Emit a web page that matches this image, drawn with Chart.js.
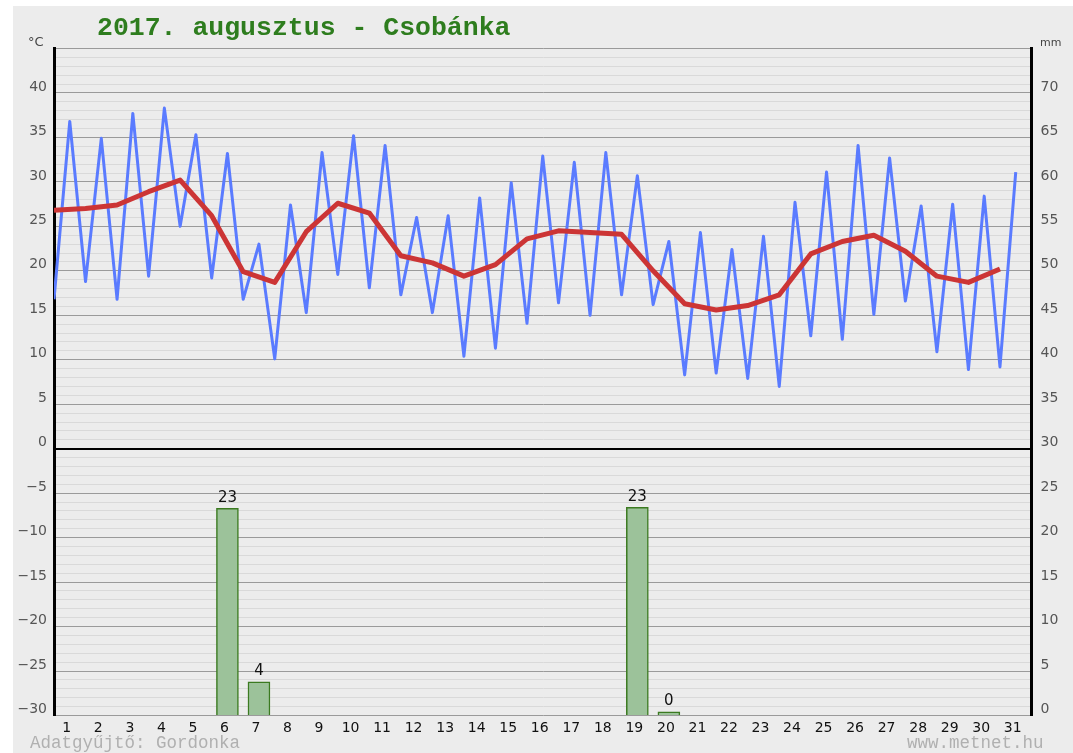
<!DOCTYPE html>
<html>
<head>
<meta charset="utf-8">
<script src="https://cdn.jsdelivr.net/npm/chart.js@4.4.1/dist/chart.umd.min.js"></script>
<style>
  body { margin: 0; background: #fff; width: 1073px; height: 753px; overflow: hidden; }
  #panel { position: absolute; left: 13px; top: 6px; right: 0; bottom: 0; background: #ececec; }
  #c { position: absolute; left: 0; top: 0; }
  .txt { position: absolute; white-space: pre; }
  #title { left: 97px; top: 13px; font: bold 26.5px "Liberation Mono", monospace; color: #2e7d1e; line-height: 30px; }
  #unitC { left: 28px; top: 34px; font: 13px "DejaVu Sans", sans-serif; color: #444; line-height: 16px; }
  #unitMm { left: 1040px; top: 36px; font: 11px "DejaVu Sans", sans-serif; color: #444; line-height: 14px; }
  .foot { top: 733px; font: 17.5px "Liberation Mono", monospace; color: #b0b0b0; line-height: 20px; }
  #src { left: 30px; }
  #site { left: 907px; }
</style>
</head>
<body>
<div id="panel"></div>
<canvas id="c" width="1073" height="753"></canvas>
<div class="txt" id="title">2017. augusztus - Csobánka</div>
<div class="txt" id="unitC">°C</div>
<div class="txt" id="unitMm">mm</div>
<div class="txt foot" id="src">Adatgyűjtő: Gordonka</div>
<div class="txt foot" id="site">www.metnet.hu</div>
<script>
// days of the month
const dayLabels = ["1", "2", "3", "4", "5", "6", "7", "8", "9", "10", "11", "12", "13", "14", "15", "16",
  "17", "18", "19", "20", "21", "22", "23", "24", "25", "26", "27", "28", "29", "30", "31"];

// minimum temperatures, drawn on the day boundaries (0..30)
const tMin = [16.8, 18.8, 16.8, 19.4, 25.0, 19.2, 16.8, 10.1, 15.3, 19.6, 18.1, 17.3, 15.3, 10.4, 11.3, 14.1,
  16.4, 15.0, 17.3, 16.2, 8.3, 8.5, 7.9, 7.0, 12.7, 12.3, 15.1, 16.6, 10.9, 8.9, 9.2];

// maximum temperatures, drawn in the middle of each day
const tMax = [36.8, 34.9, 37.7, 38.3, 35.3, 33.2, 23.0, 27.4, 33.3, 35.2, 34.1, 26.0, 26.2, 28.2, 29.9, 32.9,
  32.2, 33.3, 30.7, 23.3, 24.3, 22.4, 23.9, 27.7, 31.1, 34.1, 32.7, 27.3, 27.5, 28.4, 31.1];

// daily mean temperature
const tMean = [26.8, 27.0, 27.4, 28.9, 30.2, 26.2, 19.9, 18.7, 24.4, 27.6, 26.5, 21.7, 20.9, 19.4, 20.7, 23.6,
  24.5, 24.3, 24.1, 20.0, 16.3, 15.6, 16.1, 17.3, 21.9, 23.3, 24.0, 22.2, 19.4, 18.7, 20.2];

// precipitation (mm), null = no rain
const precip = [null, null, null, null, null, 23.3, 3.8, null, null, null, null, null, null, null, null, null,
  null, null, 23.4, 0.4, null, null, null, null, null, null, null, null, null, null, null];

const tempTicks = [-30, -25, -20, -15, -10, -5, 0, 5, 10, 15, 20, 25, 30, 35, 40];
const rainTicks = [0, 5, 10, 15, 20, 25, 30, 35, 40, 45, 50, 55, 60, 65, 70];

const blueLine = [];
tMin.forEach((v, k) => {
  blueLine.push({ x: k, y: v });
  blueLine.push({ x: k + 0.5, y: tMax[k] });
});
const redLine = tMean.map((v, k) => ({ x: k, y: v }));
const bars = precip.map((v, i) => (v === null ? null : { x: i + 0.5, y: v })).filter(Boolean);

const fmt = (v) => (v < 0 ? "\u2212" + Math.abs(v) : String(v));
const tickFont = { family: "DejaVu Sans", size: 14 };

// value above each rain bar
const barLabels = {
  id: "barLabels",
  afterDatasetsDraw(chart) {
    const meta = chart.getDatasetMeta(0);
    const ctx = chart.ctx;
    ctx.save();
    ctx.font = '15px "DejaVu Sans"';
    ctx.fillStyle = "#111";
    ctx.textAlign = "center";
    ctx.textBaseline = "bottom";
    meta.data.forEach((el, i) => {
      ctx.fillText(String(Math.round(bars[i].y)), el.x, el.y - 3);
    });
    ctx.restore();
  },
};

new Chart(document.getElementById("c"), {
  data: {
    datasets: [
      {
        type: "bar",
        data: bars,
        yAxisID: "y2",
        backgroundColor: "#9cc29a",
        borderColor: "#3b7a20",
        borderWidth: 1.5,
        barThickness: 22,
        order: 2,
      },
      {
        type: "line",
        data: blueLine,
        yAxisID: "y",
        borderColor: "#5a7bff",
        borderWidth: 3,
        borderJoinStyle: "round",
        pointRadius: 0,
        tension: 0,
        order: 1,
      },
      {
        type: "line",
        data: redLine,
        yAxisID: "y",
        borderColor: "#cc3535",
        borderWidth: 5,
        borderJoinStyle: "round",
        pointRadius: 0,
        tension: 0,
        order: 0,
      },
    ],
  },
  options: {
    responsive: false,
    animation: false,
    devicePixelRatio: 1,
    layout: { padding: { top: 48.5, left: 0, right: 0, bottom: 0 }, autoPadding: false },
    plugins: { legend: { display: false }, tooltip: { enabled: false } },
    scales: {
      x: {
        type: "linear",
        min: 0,
        max: 31,
        offset: false,
        afterBuildTicks: (s) => { s.ticks = dayLabels.map((d, i) => ({ value: i + 0.5 })); },
        afterFit: (s) => { s.height = 37.5; },
        grid: { display: false, drawTicks: false, offset: false },
        border: { display: false },
        ticks: {
          autoSkip: false,
          maxRotation: 0,
          padding: 4,
          labelOffset: -3,
          color: "#111",
          font: tickFont,
          callback: (v, i) => dayLabels[i],
        },
      },
      y: {
        type: "linear",
        position: "left",
        min: -30,
        max: 45,
        afterFit: (s) => { s.width = 54; },
        border: { color: "#000", width: 3 },
        grid: {
          drawTicks: false,
          color: (c) => (c.tick.value === 0 ? "#000" : c.tick.value % 5 === 0 ? "#9a9a9a" : "#d9d9d9"),
          lineWidth: (c) => (c.tick.value === 0 ? 2 : 1),
        },
        ticks: {
          stepSize: 1,
          autoSkip: false,
          padding: 7,
          labelOffset: -6,
          color: "#555",
          font: tickFont,
          callback: (v) => (tempTicks.includes(v) ? fmt(v) : ""),
        },
      },
      y2: {
        type: "linear",
        position: "right",
        min: 0,
        max: 75,
        afterFit: (s) => { s.width = 41.5; },
        border: { color: "#000", width: 3 },
        grid: { drawOnChartArea: false, drawTicks: false },
        ticks: {
          stepSize: 1,
          autoSkip: false,
          padding: 9,
          labelOffset: -6,
          color: "#555",
          font: tickFont,
          callback: (v) => (rainTicks.includes(v) ? String(v) : ""),
        },
      },
    },
  },
  plugins: [barLabels],
});
</script>
</body>
</html>
